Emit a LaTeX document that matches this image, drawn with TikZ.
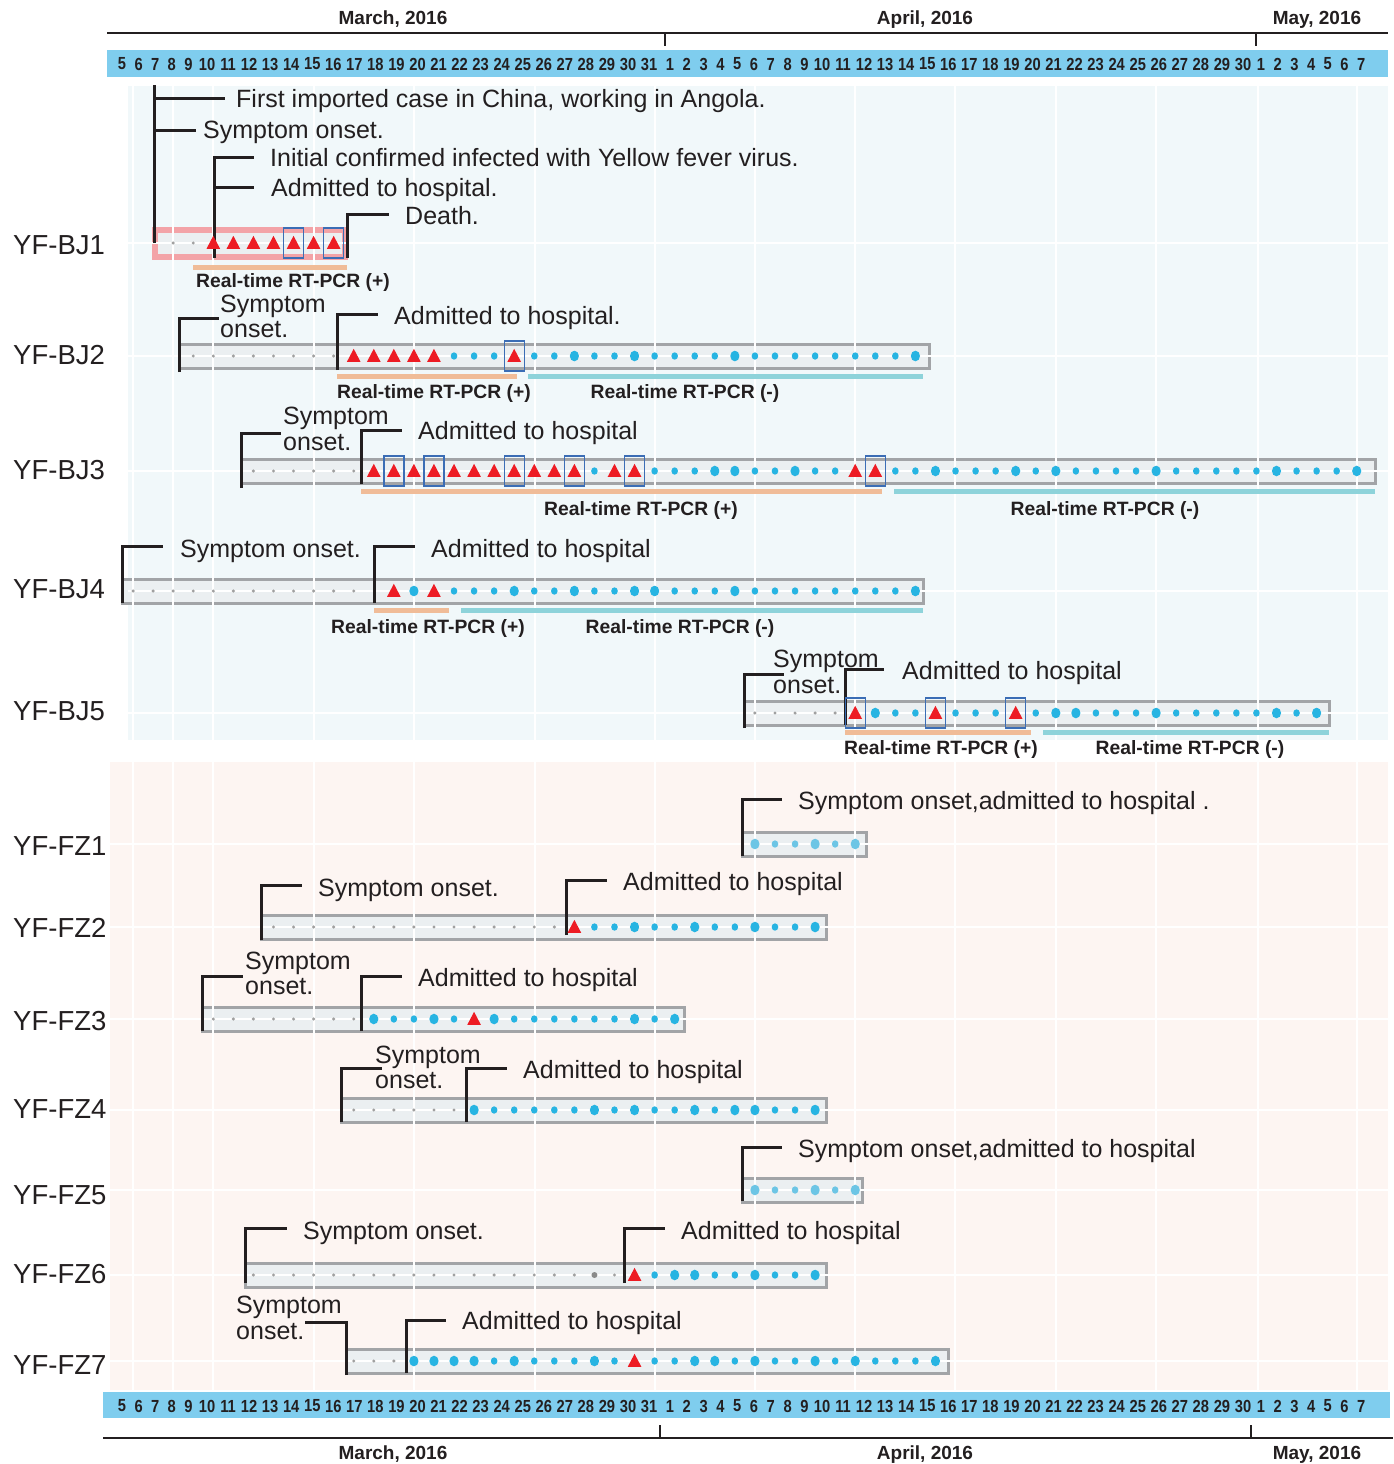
\documentclass[tikz,border=0pt]{standalone}
\usepackage{fontspec}
\setmainfont{Liberation Sans}
\usepackage{graphicx}
\definecolor{txt}{HTML}{231F20}
\definecolor{hdr}{HTML}{7FCDEE}
\definecolor{bgbj}{HTML}{F1F8FA}
\definecolor{bgfz}{HTML}{FDF5F2}
\definecolor{boxfill}{HTML}{EBEFF1}
\definecolor{boxline}{HTML}{A2A4A7}
\definecolor{pinkline}{HTML}{F3A3A7}
\definecolor{cgray}{HTML}{A0A0A0}
\definecolor{cgraydk}{HTML}{8A8A8A}
\definecolor{cblue}{HTML}{27B4E2}
\definecolor{clblue}{HTML}{6CC5E5}
\definecolor{cred}{HTML}{ED1C24}
\definecolor{cbx}{HTML}{3B6DB5}
\definecolor{corange}{HTML}{F0BC98}
\definecolor{cteal}{HTML}{8ED3DA}
\newcommand\gdots[3][cgray]{\foreach \i in {#2}{\fill[#1] ({113+20.06*\i},#3) circle (1.7);}}
\newcommand\sdots[3][cblue]{\foreach \i in {#2}{\fill[#1] ({113+20.06*\i},#3) ellipse (3.3 and 3.7);}}
\newcommand\bigdots[3][cblue]{\foreach \i in {#2}{\fill[#1] ({113+20.06*\i},#3) ellipse (4.6 and 5.3);}}
\newcommand\tris[2]{\foreach \i in {#1}{\fill[cred] ({113+20.06*\i-6.8},{#2+5.8}) -- ++(13.6,0) -- ++(-6.8,-13) -- cycle;}}
\newcommand\bxs[2]{\foreach \i in {#1}{\draw[cbx, line width=1.4pt] ({113+20.06*\i-10},{#2-15}) rectangle ++(20,30);}}
\newcommand\dayrow[2]{%
  \foreach \d in {5,...,9} {\node[dnum] (#2m\d) at ({122+16.6*(\d-5)},#1) {\scalebox{0.84}[1]{\d}};}
  \foreach \d in {10,...,31} {\node[dnum] (#2m\d) at ({207+21.05*(\d-10)},#1) {\scalebox{0.84}[1]{\d}};}
  \foreach \d in {1,...,9} {\node[dnum] (#2a\d) at ({670+16.8*(\d-1)},#1) {\scalebox{0.84}[1]{\d}};}
  \foreach \d in {10,...,30} {\node[dnum] (#2a\d) at ({822+21.05*(\d-10)},#1) {\scalebox{0.84}[1]{\d}};}
  \foreach \d in {1,...,7} {\node[dnum] (#2y\d) at ({1261+16.7*(\d-1)},#1) {\scalebox{0.84}[1]{\d}};}}
\begin{document}
\begin{tikzpicture}[x=1pt,y=-1pt,
  lbl/.style={font=\fontsize{25}{28}\selectfont, text=txt, inner sep=0, anchor=base west},
  rowlbl/.style={font=\fontsize{27.5}{30}\selectfont, text=txt, inner sep=0, anchor=base west},
  pcr/.style={font=\bfseries\fontsize{19.3}{21}\selectfont, text=txt, inner sep=0, anchor=base},
  month/.style={font=\bfseries\fontsize{19}{20}\selectfont, text=txt, inner sep=0, anchor=base},
  dnum/.style={font=\bfseries\fontsize{17.5}{18}\selectfont, text=txt, inner sep=0, anchor=center},
  brk/.style={draw=txt, line width=3pt, line join=miter},
  boxs/.style={draw=boxline, fill=boxfill, line width=3pt},
  pcrp/.style={draw=corange, line width=5pt},
  pcrn/.style={draw=cteal, line width=5pt},
  gridw/.style={draw=white, line width=2.5pt},
  axis/.style={draw=txt, line width=2.5pt}]
\useasboundingbox[fill=white] (0,0) rectangle (1393,1464);

% ---------- panels ----------
\fill[bgbj] (128,86) rectangle (1388,740);
\fill[bgfz] (110,762) rectangle (1388,1390);

% ---------- boxes ----------
\draw[draw=pinkline, fill=boxfill, line width=6pt] (155,230) rectangle (345,256.5);
\draw[boxs] (179,344) rectangle (929,368);
\draw[boxs] (241,459) rectangle (1375,483);
\draw[boxs] (122,579) rectangle (923,603);
\draw[boxs] (744,701) rectangle (1329,725);
\draw[boxs] (742,832) rectangle (866,856);
\draw[boxs] (261,915) rectangle (826,939);
\draw[boxs] (202,1007) rectangle (684,1031);
\draw[boxs] (341,1098) rectangle (826,1122);
\draw[boxs] (742,1178) rectangle (862,1202);
\draw[boxs] (245,1263) rectangle (826,1287);
\draw[boxs] (346,1349) rectangle (948,1373);

% ---------- white grid ----------
\foreach \gx in {133,173,213,314,414,535,655,755,855,955,1056,1156,1258,1357}{
  \draw[gridw] (\gx,86) -- (\gx,740);
  \draw[gridw] (\gx,762) -- (\gx,1390);}
\foreach \gy in {243,356,471,591,713}{\draw[gridw] (128,\gy) -- (1388,\gy);}
\foreach \gy in {844,927,1019,1110,1190,1275,1361}{\draw[gridw] (110,\gy) -- (1388,\gy);}

% ---------- top axis ----------
\fill[hdr] (107,50) rectangle (1388,77);
\draw[axis] (107,33) -- (1388,33);
\draw[axis] (665,33) -- (665,46);
\draw[axis] (1256,33) -- (1256,46);
\node[month] (mt1) at (393,25) {March, 2016};
\node[month] (mt2) at (925,25) {April, 2016};
\node[month] (mt3) at (1317,25) {May, 2016};
\dayrow{64}{t}

% ---------- bottom axis ----------
\fill[hdr] (103,1392) rectangle (1390,1418);
\draw[axis] (103,1438) -- (1393,1438);
\draw[axis] (660,1425) -- (660,1438);
\draw[axis] (1251,1425) -- (1251,1438);
\node[month] (mb1) at (393,1459) {March, 2016};
\node[month] (mb2) at (925,1459) {April, 2016};
\node[month] (mb3) at (1317,1459) {May, 2016};
\dayrow{1406}{b}

% ---------- PCR lines ----------
\draw[pcrp] (193,267) -- (347,267);
\draw[pcrp] (337,376) -- (517,376); \draw[pcrn] (528,376) -- (923,376);
\draw[pcrp] (361,491) -- (882,491); \draw[pcrn] (894,491) -- (1375,491);
\draw[pcrp] (374,610) -- (449,610); \draw[pcrn] (461,610) -- (923,610);
\draw[pcrp] (845,732) -- (1031,732); \draw[pcrn] (1043,732) -- (1329,732);

% ---------- brackets ----------
\draw[brk] (154,243) -- (154,85);
\draw[brk] (154,98) -- (225,98);
\draw[brk] (154,130) -- (196,130);
\draw[brk] (214,258) -- (214,157) -- (254,157);
\draw[brk] (214,187) -- (254,187);
\draw[brk] (347,258) -- (347,214) -- (389,214);
\draw[brk] (179,372) -- (179,318) -- (219,318);
\draw[brk] (337,370) -- (337,314) -- (378,314);
\draw[brk] (241,488) -- (241,433) -- (281,433);
\draw[brk] (361,484) -- (361,430) -- (402,430);
\draw[brk] (122,603) -- (122,546) -- (163,546);
\draw[brk] (374,603) -- (374,546) -- (415,546);
\draw[brk] (744,728) -- (744,674) -- (784,674);
\draw[brk] (845,725) -- (845,669) -- (884,669);
\draw[brk] (742,856) -- (742,799) -- (782,799);
\draw[brk] (261,940) -- (261,885) -- (302,885);
\draw[brk] (566,935) -- (566,880) -- (607,880);
\draw[brk] (202,1031) -- (202,976) -- (243,976);
\draw[brk] (361,1031) -- (361,976) -- (402,976);
\draw[brk] (341,1122) -- (341,1068) -- (382,1068);
\draw[brk] (466,1122) -- (466,1068) -- (507,1068);
\draw[brk] (742,1201) -- (742,1147) -- (782,1147);
\draw[brk] (245,1283) -- (245,1228) -- (287,1228);
\draw[brk] (624,1283) -- (624,1228) -- (665,1228);
\draw[brk] (346,1375) -- (346,1322) -- (305,1322);
\draw[brk] (406,1373) -- (406,1320) -- (446,1320);

% ---------- markers ----------
% BJ1
\gdots{3,4}{243}
\tris{5,6,7,8,9,10,11}{243}
\bxs{9,11}{243}
% BJ2
\gdots{4,5,6,7,8,9,10,11}{356}
\tris{12,13,14,15,16,20}{356}
\sdots{17,18,19,21,22,24,25,27,28,29,30,32,33,34,35,36,37,38,39}{356}
\bigdots{23,26,31,40}{356}
\bxs{20}{356}
% BJ3
\gdots{7,8,9,10,11,12}{471}
\tris{13,14,15,16,17,18,19,20,21,22,23,25,26,37,38}{471}
\sdots{24,27,28,29,32,33,35,36,39,40,42,43,44,46,48,49,50,51,53,54,55,56,57,59,60,61}{471}
\bigdots{30,31,34,41,45,47,52,58,62}{471}
\bxs{14,16,20,23,26,38}{471}
% BJ4
\gdots{1,2,3,4,5,6,7,8,9,10,11,12}{591}
\tris{14,16}{591}
\sdots{17,18,19,21,22,24,25,28,29,30,32,33,34,35,36,37,38,39}{591}
\bigdots{15,20,23,26,27,31,40}{591}
% BJ5
\gdots{32,33,34,35,36}{713}
\tris{37,41,45}{713}
\sdots{39,40,42,43,44,46,49,50,51,53,54,55,56,57,59}{713}
\bigdots{38,47,48,52,58,60}{713}
\bxs{37,41,45}{713}
% FZ1
\sdots[clblue]{33,34,36}{844}
\bigdots[clblue]{32,35,37}{844}
% FZ2
\gdots{8,9,10,11,12,13,14,15,16,17,18,19,20,21,22}{927}
\tris{23}{927}
\sdots{24,25,27,28,30,31,33,34}{927}
\bigdots{26,29,32,35}{927}
% FZ3
\gdots{5,6,7,8,9,10,11,12}{1019}
\tris{18}{1019}
\sdots{14,15,17,20,21,22,23,24,25,27}{1019}
\bigdots{13,16,19,26,28}{1019}
% FZ4
\gdots{12,13,14,15,16,17}{1110}
\sdots{19,20,21,22,23,25,27,28,30,33,34}{1110}
\bigdots{18,24,26,29,31,32,35}{1110}
% FZ5
\sdots[clblue]{33,34,36}{1190}
\bigdots[clblue]{32,35,37}{1190}
% FZ6
\gdots{7,8,9,10,11,12,13,14,15,16,17,18,19,20,21,22,23,25}{1275}
\fill[cgraydk] ({113+20.06*24},1275) circle (3);
\tris{26}{1275}
\sdots{27,30,31,33,34}{1275}
\bigdots{28,29,32,35}{1275}
% FZ7
\gdots{12,13,14}{1361}
\tris{26}{1361}
\sdots{19,21,22,23,25,27,28,31,33,34,36,38,39,40}{1361}
\bigdots{15,16,17,18,20,24,29,30,32,35,37,41}{1361}

% ---------- row labels ----------
\node[rowlbl] (r1) at (13,254.5) {YF-BJ1};
\node[rowlbl] (r2) at (13,364.5) {YF-BJ2};
\node[rowlbl] (r3) at (13,479.5) {YF-BJ3};
\node[rowlbl] (r4) at (13,598.5) {YF-BJ4};
\node[rowlbl] (r5) at (13,720.5) {YF-BJ5};
\node[rowlbl] (f1) at (13,855.5) {YF-FZ1};
\node[rowlbl] (f2) at (13,937.5) {YF-FZ2};
\node[rowlbl] (f3) at (13,1030.5) {YF-FZ3};
\node[rowlbl] (f4) at (13,1118.5) {YF-FZ4};
\node[rowlbl] (f5) at (13,1204.5) {YF-FZ5};
\node[rowlbl] (f6) at (13,1283.5) {YF-FZ6};
\node[rowlbl] (f7) at (13,1374.5) {YF-FZ7};

% ---------- annotations ----------
\node[lbl] (t1) at (236,107) {First imported case in China, working in Angola.};
\node[lbl] (t2) at (203,138) {Symptom onset.};
\node[lbl] (t3) at (270,166) {Initial confirmed infected with Yellow fever virus.};
\node[lbl] (t4) at (271,196) {Admitted to hospital.};
\node[lbl] (t5) at (405,224) {Death.};
\node[lbl] (b2s1) at (220,312) {Symptom};
\node[lbl] (b2s2) at (220,337) {onset.};
\node[lbl] (b2a) at (394,324) {Admitted to hospital.};
\node[lbl] (b3s1) at (283,424) {Symptom};
\node[lbl] (b3s2) at (283,450) {onset.};
\node[lbl] (b3a) at (418,439) {Admitted to hospital};
\node[lbl] (b4s) at (180,557) {Symptom onset.};
\node[lbl] (b4a) at (431,557) {Admitted to hospital};
\node[lbl] (b5s1) at (773,667) {Symptom};
\node[lbl] (b5s2) at (773,693) {onset.};
\node[lbl] (b5a) at (902,679) {Admitted to hospital};
\node[lbl] (z1) at (798,809) {Symptom onset,admitted to hospital .};
\node[lbl] (z2s) at (318,896) {Symptom onset.};
\node[lbl] (z2a) at (623,890) {Admitted to hospital};
\node[lbl] (z3s1) at (245,969) {Symptom};
\node[lbl] (z3s2) at (245,994) {onset.};
\node[lbl] (z3a) at (418,986) {Admitted to hospital};
\node[lbl] (z4s1) at (375,1063) {Symptom};
\node[lbl] (z4s2) at (375,1088) {onset.};
\node[lbl] (z4a) at (523,1078) {Admitted to hospital};
\node[lbl] (z5) at (798,1157) {Symptom onset,admitted to hospital};
\node[lbl] (z6s) at (303,1239) {Symptom onset.};
\node[lbl] (z6a) at (681,1239) {Admitted to hospital};
\node[lbl] (z7s1) at (236,1313) {Symptom};
\node[lbl] (z7s2) at (236,1339) {onset.};
\node[lbl] (z7a) at (462,1329) {Admitted to hospital};

% ---------- PCR labels ----------
\node[pcr] (p1) at (293,287) {Real-time RT-PCR (+)};
\node[pcr] (p2) at (434,398) {Real-time RT-PCR (+)};
\node[pcr] (n2) at (685,398) {Real-time RT-PCR (-)};
\node[pcr] (p3) at (641,515) {Real-time RT-PCR (+)};
\node[pcr] (n3) at (1105,515) {Real-time RT-PCR (-)};
\node[pcr] (p4) at (428,633) {Real-time RT-PCR (+)};
\node[pcr] (n4) at (680,633) {Real-time RT-PCR (-)};
\node[pcr] (p5) at (941,754) {Real-time RT-PCR (+)};
\node[pcr] (n5) at (1190,754) {Real-time RT-PCR (-)};
\end{tikzpicture}
\end{document}
